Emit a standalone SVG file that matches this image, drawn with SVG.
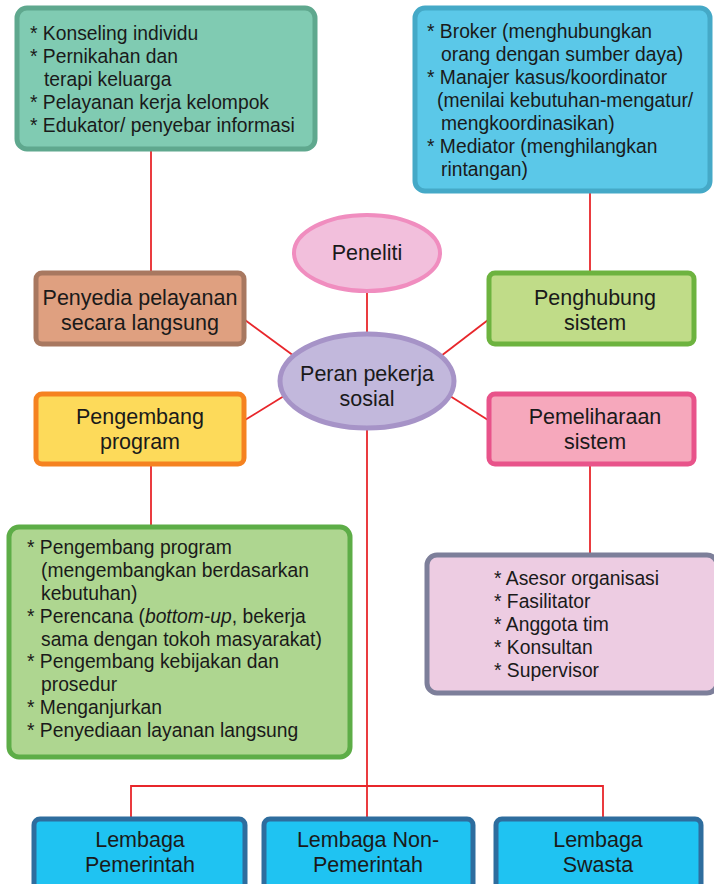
<svg xmlns="http://www.w3.org/2000/svg" width="714" height="884" viewBox="0 0 714 884">
<style>
text{font-family:"Liberation Sans",Arial,sans-serif;fill:#1a1a1a;}
.lst{font-size:19.3px;}
.lbl{font-size:21.5px;text-anchor:middle;}
.con{stroke:#E8262B;stroke-width:1.8;fill:none;}
.box{stroke-width:5;}
</style>
<rect width="714" height="884" fill="#ffffff"/>
<g id="connectors">
<line class="con" x1="151" y1="150" x2="151" y2="272"/>
<line class="con" x1="590" y1="192" x2="590" y2="272"/>
<line class="con" x1="367" y1="292" x2="367" y2="334"/>
<line class="con" x1="245" y1="320" x2="294" y2="356"/>
<line class="con" x1="488" y1="320" x2="441" y2="356"/>
<line class="con" x1="245" y1="420" x2="284" y2="396"/>
<line class="con" x1="488" y1="420" x2="450" y2="396"/>
<line class="con" x1="151" y1="465" x2="151" y2="526"/>
<line class="con" x1="590" y1="465" x2="590" y2="554"/>
<line class="con" x1="367" y1="429" x2="367" y2="818"/>
<polyline class="con" points="131,818 131,786 603,786 603,818"/>
</g>
<g id="n-teal-list">
<rect class="box" x="17" y="8" width="298" height="141" rx="10" fill="#80CBB2" stroke="#5FA88E"/>
<text class="lst"><tspan x="30" y="40">* Konseling individu</tspan><tspan x="30" y="63">* Pernikahan dan</tspan><tspan x="44" y="86">terapi keluarga</tspan><tspan x="30" y="109">* Pelayanan kerja kelompok</tspan><tspan x="30" y="132">* Edukator/ penyebar informasi</tspan></text>
</g>
<g id="n-blue-list">
<rect class="box" x="415" y="8" width="295" height="183" rx="10" fill="#5BC8E8" stroke="#45A9C7"/>
<text class="lst"><tspan x="427" y="38">* Broker (menghubungkan</tspan><tspan x="441" y="61">orang dengan sumber daya)</tspan><tspan x="427" y="84">* Manajer kasus/koordinator</tspan><tspan x="437" y="107">(menilai kebutuhan-mengatur/</tspan><tspan x="441" y="130">mengkoordinasikan)</tspan><tspan x="427" y="153">* Mediator (menghilangkan</tspan><tspan x="441" y="176">rintangan)</tspan></text>
</g>
<g id="n-peneliti">
<ellipse cx="367" cy="253" rx="73" ry="38" fill="#F2BFDC" stroke="#F08DBF" stroke-width="4"/>
<text class="lbl" x="367" y="260">Peneliti</text>
</g>
<g id="n-center">
<ellipse cx="367" cy="381" rx="87" ry="47" fill="#C2B8DC" stroke="#A693C7" stroke-width="5"/>
<text class="lbl"><tspan x="367" y="381">Peran pekerja</tspan><tspan x="367" y="406">sosial</tspan></text>
</g>
<g id="n-penyedia">
<rect class="box" x="36" y="273" width="208" height="71" rx="6" fill="#DFA080" stroke="#A87860"/>
<text class="lbl"><tspan x="140" y="305">Penyedia pelayanan</tspan><tspan x="140" y="330">secara langsung</tspan></text>
</g>
<g id="n-penghubung">
<rect class="box" x="489" y="273" width="205" height="71" rx="6" fill="#C0DC88" stroke="#6DB33F"/>
<text class="lbl"><tspan x="595" y="305">Penghubung</tspan><tspan x="595" y="330">sistem</tspan></text>
</g>
<g id="n-pengembang">
<rect class="box" x="36" y="394" width="208" height="70" rx="6" fill="#FDDA5A" stroke="#F58220"/>
<text class="lbl"><tspan x="140" y="424">Pengembang</tspan><tspan x="140" y="449">program</tspan></text>
</g>
<g id="n-pemeliharaan">
<rect class="box" x="489" y="394" width="205" height="70" rx="6" fill="#F6A8BC" stroke="#E8538A"/>
<text class="lbl"><tspan x="595" y="424">Pemeliharaan</tspan><tspan x="595" y="449">sistem</tspan></text>
</g>
<g id="n-green-list">
<rect class="box" x="9" y="527" width="341" height="230" rx="10" fill="#AED690" stroke="#5DAD47"/>
<text class="lst"><tspan x="27" y="554">* Pengembang program</tspan><tspan x="41" y="577">(mengembangkan berdasarkan</tspan><tspan x="41" y="600">kebutuhan)</tspan><tspan x="27" y="623">* Perencana (<tspan font-style="italic">bottom-up</tspan>, bekerja</tspan><tspan x="41" y="646">sama dengan tokoh masyarakat)</tspan><tspan x="27" y="668">* Pengembang kebijakan dan</tspan><tspan x="41" y="691">prosedur</tspan><tspan x="27" y="714">* Menganjurkan</tspan><tspan x="27" y="737">* Penyediaan layanan langsung</tspan></text>
</g>
<g id="n-lavender-list">
<rect class="box" x="427" y="555" width="290" height="138" rx="10" fill="#EDCCE2" stroke="#7D7F9A"/>
<text class="lst"><tspan x="494" y="585">* Asesor organisasi</tspan><tspan x="494" y="608">* Fasilitator</tspan><tspan x="494" y="631">* Anggota tim</tspan><tspan x="494" y="654">* Konsultan</tspan><tspan x="494" y="677">* Supervisor</tspan></text>
</g>
<g id="n-pemerintah">
<rect class="box" x="34" y="819" width="211" height="72" rx="6" fill="#1FC3F2" stroke="#2E6D9E"/>
<text class="lbl"><tspan x="140" y="847">Lembaga</tspan><tspan x="140" y="872">Pemerintah</tspan></text>
</g>
<g id="n-nonpemerintah">
<rect class="box" x="264" y="819" width="209" height="72" rx="6" fill="#1FC3F2" stroke="#2E6D9E"/>
<text class="lbl"><tspan x="368" y="847">Lembaga Non-</tspan><tspan x="368" y="872">Pemerintah</tspan></text>
</g>
<g id="n-swasta">
<rect class="box" x="496" y="819" width="205" height="72" rx="6" fill="#1FC3F2" stroke="#2E6D9E"/>
<text class="lbl"><tspan x="598" y="847">Lembaga</tspan><tspan x="598" y="872">Swasta</tspan></text>
</g>
</svg>
